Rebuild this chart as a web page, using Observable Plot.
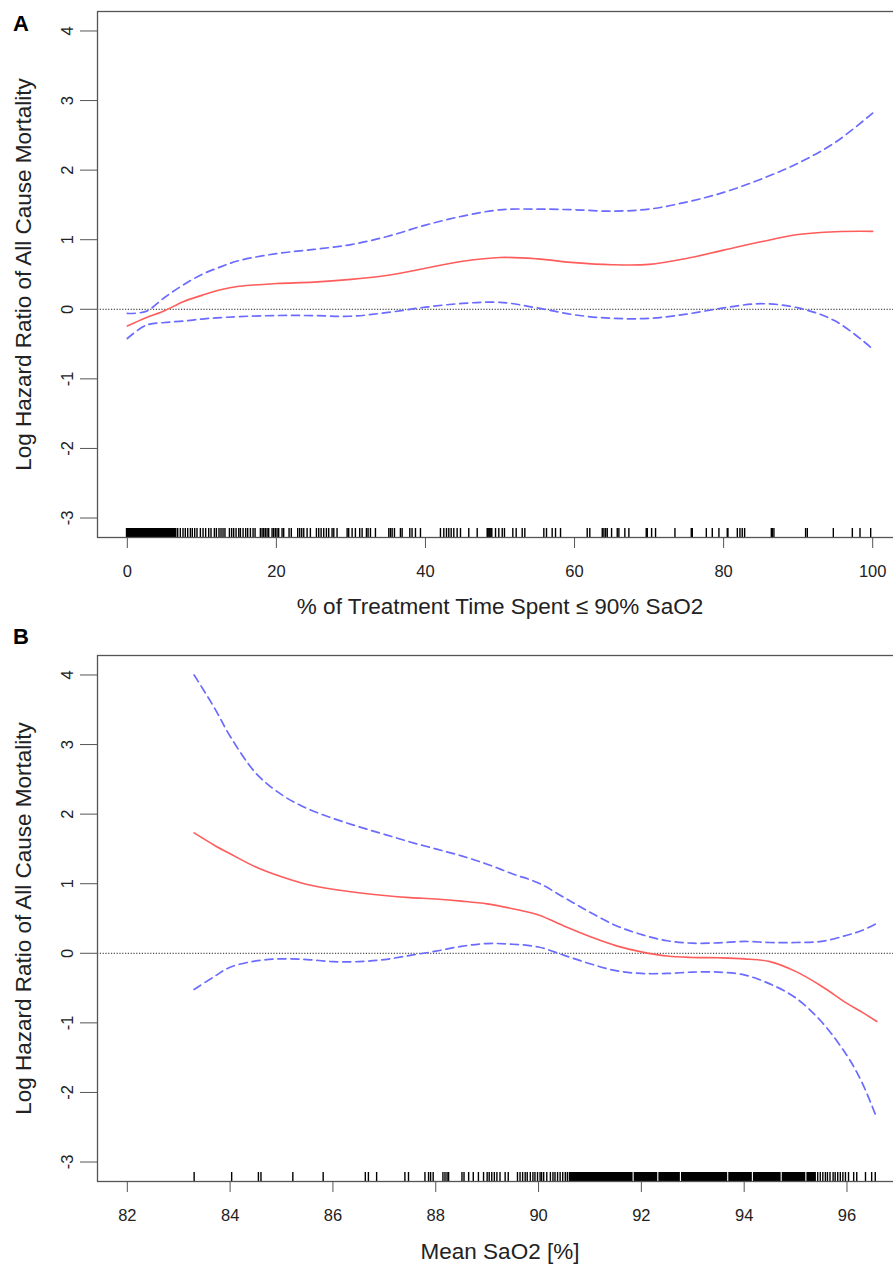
<!DOCTYPE html>
<html><head><meta charset="utf-8">
<script src="https://cdn.jsdelivr.net/npm/d3@7"></script>
<script src="https://cdn.jsdelivr.net/npm/@observablehq/plot@0.6"></script>
<style>
body{margin:0;background:#fff;}
#wrap{position:relative;width:893px;height:1264px;overflow:hidden;background:#fff;}
#a,#b{position:absolute;left:0;width:940px;}
#a{top:0;}#b{top:625px;}
#wrap svg{max-width:none !important;height:auto;}
</style></head><body><div id="wrap"><div id="a"></div><div id="b"></div></div>
<script>
// ---- shared text / ticks ----
const yTicks = [-3, -2, -1, 0, 1, 2, 3, 4];
const yTitle = "Log Hazard Ratio of All Cause Mortality";

// ---- Panel A ----
const aLetter = "A";
const aTitle = "% of Treatment Time Spent \u2264 90% SaO2";
const aTicks = [0, 20, 40, 60, 80, 100];
const aX     = [0, 2.5, 5, 7.5, 10, 12.5, 15, 20, 25, 30, 35, 40, 45, 50, 55, 60, 65, 70, 75, 80, 85, 90, 95, 100];
const aFit   = [-0.24, -0.12, -0.02, 0.11, 0.20, 0.28, 0.33, 0.37, 0.39, 0.43, 0.49, 0.59, 0.69, 0.745, 0.725, 0.67, 0.64, 0.645, 0.73, 0.85, 0.97, 1.075, 1.115, 1.12];
const aUpper = [-0.06, -0.03, 0.17, 0.35, 0.50, 0.61, 0.70, 0.80, 0.86, 0.93, 1.05, 1.21, 1.34, 1.43, 1.44, 1.43, 1.41, 1.44, 1.54, 1.68, 1.87, 2.10, 2.40, 2.82];
const aLower = [-0.42, -0.23, -0.19, -0.17, -0.14, -0.12, -0.105, -0.09, -0.09, -0.10, -0.045, 0.03, 0.085, 0.10, 0.02, -0.08, -0.13, -0.13, -0.07, 0.02, 0.08, 0.02, -0.17, -0.57];
const aRugDense = [0,0.1,0.2,0.3,0.4,0.5,0.6,0.7,0.8,0.9,1,1.1,1.2,1.3,1.4,1.5,1.6,1.7,1.8,1.9,2,2.1,2.2,2.3,2.4,2.5,2.6,2.7,2.8,2.9,3,3.1,3.2,3.3,3.4,3.5,3.6,3.7,3.8,3.9,4,4.1,4.2,4.3,4.4,4.5,4.6,4.7,4.8,4.9,5,5.1,5.2,5.3,5.4,5.5,5.6,5.7,5.8,5.9,6,6.1,6.2,6.3,6.4];
const aRug = [6.76,7.11,7.47,7.78,8.1,8.46,8.72,9.04,9.35,9.8,10.16,10.51,10.92,11.23,11.68,11.95,12.3,12.57,12.84,13.1,13.7,14.0,14.27,14.59,14.95,15.17,15.53,15.88,16.15,16.51,16.87,17.14,17.85,18.08,18.3,18.52,18.75,18.97,19.42,19.64,19.87,20.09,20.31,20.76,20.98,21.7,22.0,22.86,23.13,23.4,23.67,24.12,24.56,25.37,25.68,26.0,26.35,26.71,27.02,27.47,27.7,28.14,29.49,29.7,30.16,30.6,31.18,31.5,32.08,32.3,32.62,33.29,35.08,35.3,35.53,35.84,36.64,36.87,37.9,38.2,38.66,39.33,42.01,42.46,42.82,43.13,43.45,43.8,44.25,44.7,45.81,46.94,48.28,48.36,48.5,48.63,48.77,48.9,49.4,49.84,50.3,50.6,51.72,52.17,52.98,53.33,55.88,56.24,57.0,57.45,58.12,61.7,62.05,63.72,63.94,64.17,64.39,64.97,65.73,65.95,66.75,67.29,69.62,69.76,70.34,70.87,73.47,75.66,75.8,77.68,78.48,79.37,80.49,80.58,81.84,82.19,82.5,82.82,86.4,86.53,86.75,91.0,91.23,94.72,97.27,98.3,99.73];

// ---- Panel B ----
const bLetter = "B";
const bTitle = "Mean SaO2 [%]";
const bTicks = [82, 84, 86, 88, 90, 92, 94, 96];
const bX     = [83.3, 83.7, 84.0, 84.5, 85.0, 85.5, 86.0, 86.5, 87.0, 87.5, 88.0, 88.5, 89.0, 89.5, 90.0, 90.5, 91.0, 91.5, 92.0, 92.5, 93.0, 93.5, 94.0, 94.5, 95.0, 95.5, 96.0, 96.3, 96.58];
const bFit   = [1.73, 1.55, 1.43, 1.24, 1.10, 0.99, 0.92, 0.87, 0.83, 0.80, 0.78, 0.75, 0.71, 0.64, 0.55, 0.39, 0.24, 0.11, 0.02, -0.04, -0.06, -0.065, -0.08, -0.12, -0.26, -0.47, -0.72, -0.85, -0.98];
const bUpper = [4.0, 3.52, 3.12, 2.59, 2.28, 2.08, 1.94, 1.82, 1.71, 1.60, 1.50, 1.40, 1.28, 1.14, 1.01, 0.80, 0.59, 0.40, 0.27, 0.18, 0.145, 0.15, 0.17, 0.155, 0.155, 0.17, 0.26, 0.33, 0.43];
const bLower = [-0.52, -0.33, -0.20, -0.11, -0.08, -0.09, -0.12, -0.12, -0.09, -0.03, 0.03, 0.10, 0.14, 0.13, 0.09, -0.03, -0.15, -0.25, -0.29, -0.29, -0.27, -0.27, -0.31, -0.44, -0.64, -0.98, -1.47, -1.87, -2.37];
const bRug = [83.30,84.03,84.55,84.60,85.22,85.81,86.63,86.69,86.85,87.40,87.47,87.79,87.86,87.90,87.95,88.14,88.18,88.22,88.25,88.51,88.55,88.64,88.73,88.83,88.93,89.00,89.04,89.09,89.14,89.19,89.25,89.35,89.41,89.59,89.64,89.69,89.74,89.78,89.84,89.89,89.93,89.98,90.03,90.06,90.10,90.16,90.23,90.28,90.32,90.37,90.42,90.47,90.52,90.56,90.60,95.38,95.43,95.48,95.53,95.58,95.62,95.67,95.73,95.77,95.82,95.87,95.92,95.97,96.03,96.13,96.19,96.36,96.48,96.55];
const bRugDense = [90.64,90.68,90.72,90.76,90.80,90.84,90.88,90.92,90.96,91.00,91.04,91.08,91.12,91.16,91.20,91.24,91.28,91.32,91.36,91.40,91.44,91.48,91.52,91.56,91.60,91.64,91.68,91.72,91.76,91.80,91.88,91.92,91.96,92.00,92.04,92.08,92.12,92.16,92.20,92.24,92.28,92.36,92.40,92.44,92.48,92.52,92.56,92.60,92.64,92.68,92.72,92.80,92.84,92.88,92.92,92.96,93.00,93.04,93.08,93.12,93.16,93.20,93.24,93.28,93.32,93.36,93.40,93.44,93.48,93.52,93.56,93.60,93.64,93.72,93.76,93.80,93.84,93.88,93.92,93.96,94.00,94.04,94.08,94.12,94.20,94.24,94.28,94.32,94.36,94.40,94.44,94.48,94.52,94.56,94.60,94.64,94.68,94.76,94.80,94.84,94.88,94.92,94.96,95.00,95.04,95.08,95.12,95.16,95.24,95.28,95.32,95.36];

const FONT = "'Liberation Sans', Arimo, Arial, Helvetica, sans-serif";

function panel({letter, title, xTicks, xDomain, xs, fit, upper, lower, rug, rugDense, height, marginTop, marginBottom, titleDy, letterDy}) {
  const rows = xs.map((x, i) => ({x, fit: fit[i], hi: upper[i], lo: lower[i]}));
  const frameH = height - marginTop - marginBottom;
  const rugLen = 9;
  return Plot.plot({
    width: 940,
    height,
    marginLeft: 97,
    marginRight: 38,
    marginTop,
    marginBottom,
    x: {domain: xDomain},
    y: {domain: [-3.28, 4.28]},
    style: {fontFamily: FONT, fontSize: "16.5px", color: "#222", background: "white", overflow: "visible", maxWidth: "none"},
    marks: [
      Plot.ruleY([0], {stroke: "#222", strokeWidth: 1, strokeDasharray: "1.2,1.6"}),
      Plot.ruleX(rugDense, {x: d => d, insetTop: frameH - rugLen, stroke: "black", strokeWidth: 3}),
      Plot.ruleX(rug, {x: d => d, insetTop: frameH - rugLen, stroke: "black", strokeWidth: 1.4}),
      Plot.line(rows, {x: "x", y: "hi", stroke: "#6b6bff", strokeWidth: 1.7, strokeDasharray: "8,5", curve: "catmull-rom"}),
      Plot.line(rows, {x: "x", y: "lo", stroke: "#6b6bff", strokeWidth: 1.7, strokeDasharray: "8,5", curve: "catmull-rom"}),
      Plot.line(rows, {x: "x", y: "fit", stroke: "#ff5c5c", strokeWidth: 1.6, curve: "catmull-rom"}),
      Plot.frame({stroke: "#555", strokeWidth: 1.3}),
      Plot.axisX({ticks: xTicks, tickSize: 11, tickPadding: 17, label: null, stroke: "#555", fill: "#222", tickFormat: d => String(d)}),
      Plot.axisY({ticks: yTicks, tickSize: 17, tickPadding: 8, tickRotate: -90, label: null, stroke: "#555", fill: "#222", tickFormat: d => String(d)}),
      Plot.text([title], {text: d => d, frameAnchor: "bottom", textAnchor: "middle", dy: titleDy, lineAnchor: "bottom", fontSize: 22.5, fill: "#222"}),
      Plot.text([yTitle], {text: d => d, frameAnchor: "left", textAnchor: "middle", rotate: -90, dx: -74, lineAnchor: "middle", fontSize: 22.5, fill: "#222"}),
      Plot.text([letter], {text: d => d, frameAnchor: "top-left", textAnchor: "start", dx: -84.5, dy: letterDy, lineAnchor: "bottom", fontSize: 22, fontWeight: "bold", fill: "#000"})
    ]
  });
}

document.getElementById("a").appendChild(panel({
  letter: aLetter, title: aTitle, xTicks: aTicks, xDomain: [-4, 104],
  xs: aX, fit: aFit, upper: aUpper, lower: aLower, rug: aRug, rugDense: aRugDense,
  height: 625, marginTop: 11, marginBottom: 88, titleDy: 76, letterDy: 19.7
}));
document.getElementById("b").appendChild(panel({
  letter: bLetter, title: bTitle, xTicks: bTicks, xDomain: [81.42, 97.08],
  xs: bX, fit: bFit, upper: bUpper, lower: bLower, rug: bRug, rugDense: bRugDense,
  height: 639, marginTop: 30, marginBottom: 83, titleDy: 77, letterDy: -12
}));
</script>
</body></html>
